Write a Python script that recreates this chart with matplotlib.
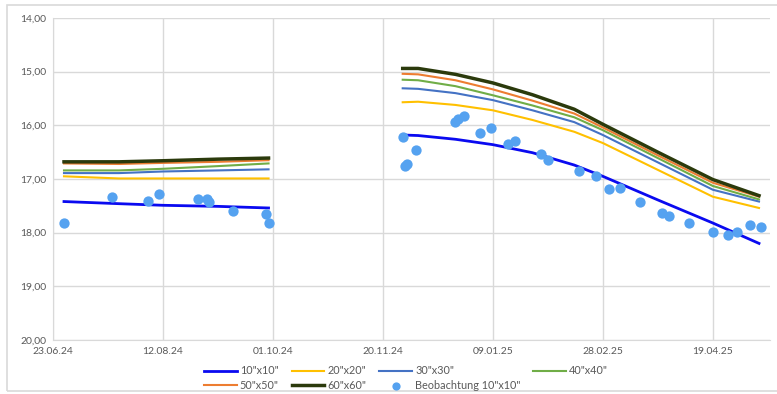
import matplotlib
matplotlib.use("Agg")
import matplotlib.pyplot as plt
import matplotlib.dates as mdates
from matplotlib.patches import Rectangle
import numpy as np
import pandas as pd

plt.rcParams['font.family'] = ['Lato', 'DejaVu Sans']

# model curves: first 5 nodes summer 2024, next 10 nodes winter/spring 2025
line_dates = ['28.06.24', '23.07.24', '12.08.24', '06.09.24', '29.09.24',
              '29.11.24', '06.12.24', '23.12.24', '09.01.25', '27.01.25',
              '15.02.25', '28.02.25', '25.03.25', '19.04.25', '10.05.25']
n_summer = 5

v10 = [17.42, 17.46, 17.49, 17.51, 17.54,
       16.18, 16.19, 16.26, 16.36, 16.51, 16.74, 16.95, 17.39, 17.82, 18.20]
v20 = [16.95, 16.99, 16.99, 16.99, 16.99,
       15.57, 15.56, 15.62, 15.72, 15.90, 16.12, 16.33, 16.83, 17.33, 17.54]
v30 = [16.89, 16.89, 16.86, 16.84, 16.82,
       15.31, 15.32, 15.40, 15.53, 15.72, 15.94, 16.18, 16.69, 17.20, 17.42]
v40 = [16.84, 16.84, 16.81, 16.76, 16.71,
       15.15, 15.16, 15.27, 15.44, 15.63, 15.85, 16.09, 16.61, 17.13, 17.38]
v50 = [16.71, 16.72, 16.70, 16.68, 16.65,
       15.04, 15.05, 15.16, 15.33, 15.54, 15.78, 16.04, 16.56, 17.07, 17.33]
v60 = [16.68, 16.68, 16.66, 16.63, 16.61,
       14.94, 14.94, 15.05, 15.21, 15.43, 15.70, 15.98, 16.50, 17.01, 17.31]

obs_dates = ['28.06.24', '20.07.24', '05.08.24', '10.08.24', '28.08.24',
             '01.09.24', '02.09.24', '13.09.24', '28.09.24', '29.09.24',
             '29.11.24', '30.11.24', '01.12.24', '05.12.24', '23.12.24',
             '24.12.24', '27.12.24', '03.01.25', '08.01.25', '16.01.25',
             '19.01.25', '31.01.25', '03.02.25', '17.02.25', '25.02.25',
             '03.03.25', '08.03.25', '17.03.25', '27.03.25', '30.03.25',
             '08.04.25', '19.04.25', '26.04.25', '30.04.25', '06.05.25',
             '11.05.25']
obs_vals = [17.82, 17.33, 17.41, 17.28, 17.37, 17.37, 17.43, 17.59, 17.65, 17.82,
            16.21, 16.75, 16.72, 16.46, 15.93, 15.89, 15.82, 16.15, 16.05, 16.34,
            16.29, 16.53, 16.64, 16.85, 16.94, 17.19, 17.16, 17.42, 17.63, 17.69,
            17.82, 17.99, 18.04, 17.98, 17.85, 17.89]

series = [('10"x10"', v10, '#0A0AF0', 2.0),
          ('20"x20"', v20, '#FFC000', 1.5),
          ('30"x30"', v30, '#4472C4', 1.5),
          ('40"x40"', v40, '#70AD47', 1.5),
          ('50"x50"', v50, '#ED7D31', 1.5),
          ('60"x60"', v60, '#2B3A0C', 2.5)]

x_ticks = pd.date_range('2024-06-23', periods=7, freq='50D')

ld = pd.to_datetime(line_dates, format='%d.%m.%y')
od = pd.to_datetime(obs_dates, format='%d.%m.%y')

fig = plt.figure(figsize=(7.77, 3.94), dpi=100)
ax = fig.add_axes([53/777, 1-340/394, (770-53)/777, (340-18)/394])

handles = {}
for name, vals, col, lw in series:
    h, = ax.plot(ld[:n_summer], vals[:n_summer], color=col, lw=lw, label=name,
                 solid_joinstyle='round')
    ax.plot(ld[n_summer:], vals[n_summer:], color=col, lw=lw, solid_joinstyle='round')
    handles[name] = h
sc = ax.scatter(od, obs_vals, s=55, color='#55A2F0', zorder=3, linewidths=0,
                label='Beobachtung 10"x10"')
handles['obs'] = sc

ax.set_ylim(20, 14)
ax.set_yticks(np.arange(14, 21, 1))
ax.yaxis.set_major_formatter(plt.FuncFormatter(lambda v, p: f'{v:.2f}'.replace('.', ',')))
ax.set_xlim(pd.Timestamp('2024-06-23'), pd.Timestamp('2025-05-15'))
ax.set_xticks(x_ticks)
ax.xaxis.set_major_formatter(mdates.DateFormatter('%d.%m.%y'))

ax.grid(True, color='#D9D9D9', lw=1)
ax.set_axisbelow(True)
for s in ['top', 'right']:
    ax.spines[s].set_visible(False)
for s in ['left', 'bottom']:
    ax.spines[s].set_color('#D9D9D9')
ax.tick_params(length=0, labelsize=7.5, colors='#595959', pad=5)

order = ['10"x10"', '50"x50"', '20"x20"', '60"x60"', '30"x30"', 'obs', '40"x40"']
labels = {'obs': 'Beobachtung 10"x10"'}
fig.legend([handles[k] for k in order], [labels.get(k, k) for k in order],
           ncol=4, loc='center', bbox_to_anchor=(406/777, 0.04), frameon=False,
           fontsize=7.8, labelcolor='#595959', handlelength=3.0, handletextpad=0.3,
           columnspacing=1.2, labelspacing=0.35, borderpad=0, markerscale=0.8)

fig.patches.append(Rectangle((7/777, 1-391/394), 1.0, 386/394, transform=fig.transFigure,
                             fill=False, edgecolor='#D9D9D9', lw=1.2))

fig.savefig('out.png', dpi=100)
